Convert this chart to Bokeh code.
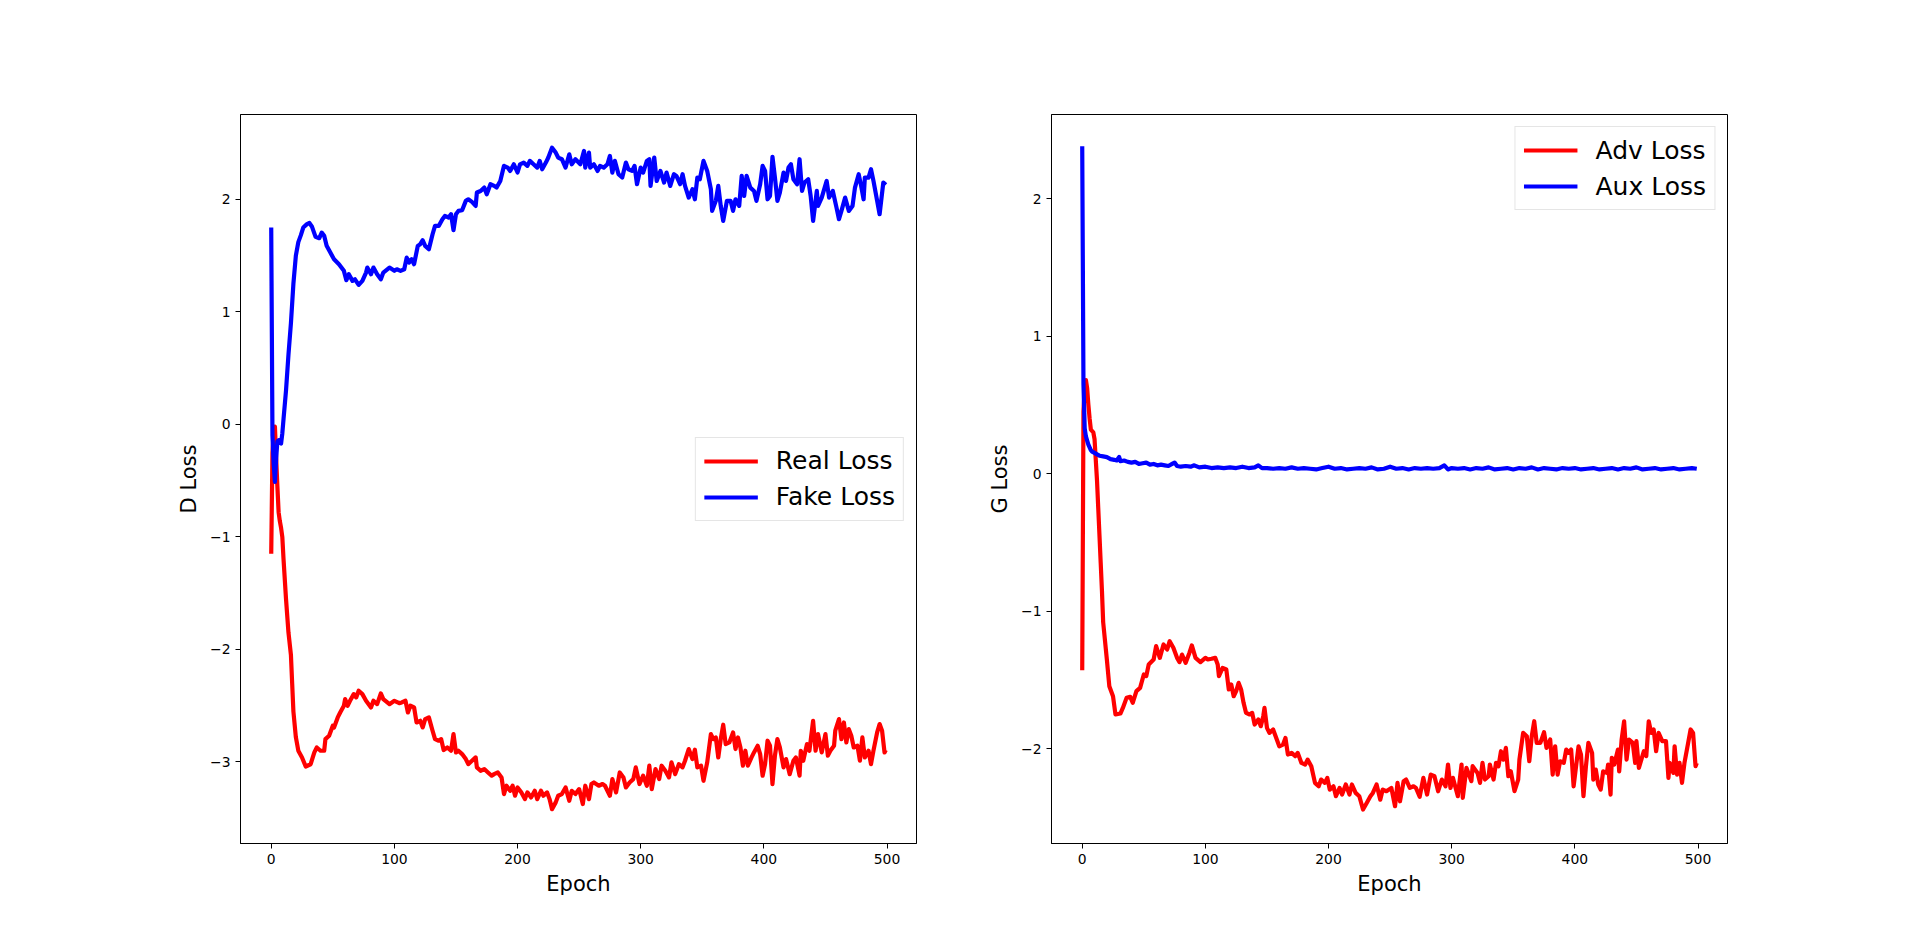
from bokeh.plotting import figure
from bokeh.layouts import row
from bokeh.models import Range1d, FixedTicker
from bokeh.embed import file_html
from bokeh.resources import INLINE

# ---- data: (epoch, value) pairs ----
d_real_loss = [
    (0, -1.15), (1, -0.25), (2, -0.08), (3, -0.02), (4, -0.3), (5, -0.55), (6, -0.78), (7, -0.86),
    (8, -0.92), (9, -1.0), (10, -1.2), (12, -1.55), (14, -1.85), (16, -2.05), (17, -2.3), (18, -2.55),
    (20, -2.78), (22, -2.9), (25, -2.96), (28, -3.04), (32, -3.02), (35, -2.915), (37, -2.871),
    (40, -2.9), (43, -2.9), (44, -2.797), (47, -2.767), (50, -2.678), (51, -2.693), (54, -2.604),
    (56, -2.56), (59, -2.5), (60, -2.441), (62, -2.5), (64, -2.456), (67, -2.397), (69, -2.426),
    (71, -2.367), (74, -2.397), (77, -2.456), (81, -2.515), (83, -2.456), (86, -2.486), (89, -2.391),
    (91, -2.441), (96, -2.486), (100, -2.456), (104, -2.477), (106, -2.471), (109, -2.456),
    (111, -2.56), (113, -2.5), (116, -2.515), (118, -2.649), (121, -2.634), (123, -2.693),
    (125, -2.619), (128, -2.604), (131, -2.722), (133, -2.797), (136, -2.811), (138, -2.797),
    (140, -2.894), (143, -2.871), (146, -2.9), (148, -2.752), (150, -2.915), (152, -2.9),
    (155, -2.93), (158, -2.974), (160, -3.019), (163, -2.989), (166, -2.959), (167, -3.048),
    (170, -3.078), (173, -3.063), (176, -3.093), (179, -3.122), (181, -3.108), (184, -3.093),
    (187, -3.137), (189, -3.285), (191, -3.211), (194, -3.256), (196, -3.211), (198, -3.3),
    (200, -3.226), (203, -3.27), (206, -3.33), (208, -3.27), (211, -3.315), (214, -3.256),
    (216, -3.33), (219, -3.256), (221, -3.3), (224, -3.27), (226, -3.33), (228, -3.419),
    (231, -3.359), (233, -3.3), (236, -3.285), (239, -3.226), (242, -3.345), (244, -3.256),
    (247, -3.285), (250, -3.241), (253, -3.374), (255, -3.211), (258, -3.33), (260, -3.196),
    (262, -3.182), (266, -3.211), (269, -3.196), (271, -3.211), (275, -3.3), (277, -3.152),
    (280, -3.27), (283, -3.093), (286, -3.137), (288, -3.226), (291, -3.182), (294, -3.152),
    (296, -3.048), (299, -3.196), (302, -3.122), (305, -3.211), (307, -3.033), (309, -3.241),
    (312, -3.063), (315, -3.152), (317, -3.033), (320, -3.078), (323, -3.137), (325, -3.004),
    (328, -3.108), (331, -3.019), (334, -3.048), (336, -2.989), (339, -2.885), (342, -2.974),
    (344, -2.891), (346, -3.048), (349, -3.033), (351, -3.167), (354, -3.004), (357, -2.752),
    (359, -2.797), (361, -2.782), (363, -2.959), (365, -2.797), (367, -2.669), (369, -2.841),
    (372, -2.826), (375, -2.737), (377, -2.885), (379, -2.782), (381, -2.871), (383, -3.033),
    (385, -2.9), (387, -3.033), (390, -2.959), (392, -2.915), (395, -2.856), (397, -2.93),
    (399, -3.122), (401, -3.019), (403, -2.811), (405, -2.856), (407, -3.196), (409, -2.944),
    (411, -2.797), (413, -2.871), (416, -3.048), (418, -2.974), (421, -3.108), (424, -2.989),
    (426, -2.959), (429, -3.122), (430, -2.9), (432, -2.989), (435, -2.841), (437, -2.9),
    (440, -2.634), (442, -2.9), (444, -2.752), (447, -2.915), (450, -2.752), (452, -2.944),
    (454, -2.9), (457, -2.856), (458, -2.722), (461, -2.619), (463, -2.797), (465, -2.649),
    (467, -2.826), (469, -2.708), (471, -2.767), (473, -2.871), (476, -2.856), (478, -2.989),
    (480, -2.782), (482, -2.959), (485, -2.9), (487, -3.019), (489, -2.9), (492, -2.737),
    (494, -2.663), (496, -2.722), (498, -2.915), (499, -2.894),
]

d_fake_loss = [
    (0, 1.75), (1, -0.1), (2, -0.35), (3, -0.51), (4, -0.3), (5, -0.15), (6, -0.14), (7, -0.16),
    (8, -0.17), (9, -0.08), (10, 0.05), (12, 0.3), (14, 0.62), (16, 0.9), (18, 1.25), (20, 1.5),
    (22, 1.62), (24, 1.68), (26, 1.75), (29, 1.78), (31, 1.79), (33, 1.76), (36, 1.667),
    (39, 1.655), (41, 1.705), (43, 1.676), (45, 1.587), (48, 1.527), (51, 1.468), (55, 1.424),
    (59, 1.365), (61, 1.282), (63, 1.335), (66, 1.276), (68, 1.29), (71, 1.24), (74, 1.276),
    (77, 1.35), (78, 1.394), (81, 1.335), (83, 1.394), (86, 1.335), (89, 1.29), (91, 1.35),
    (96, 1.394), (100, 1.365), (102, 1.379), (105, 1.365), (108, 1.379), (110, 1.483),
    (112, 1.439), (114, 1.468), (116, 1.424), (119, 1.587), (121, 1.602), (123, 1.637),
    (125, 1.587), (128, 1.557), (131, 1.69), (133, 1.764), (136, 1.764), (139, 1.824),
    (141, 1.853), (144, 1.839), (146, 1.868), (148, 1.726), (150, 1.868), (152, 1.898),
    (155, 1.904), (158, 1.987), (160, 2.001), (163, 1.978), (166, 1.942), (167, 2.061),
    (170, 2.075), (173, 2.105), (175, 2.046), (178, 2.135), (181, 2.12), (183, 2.105),
    (186, 2.164), (189, 2.298), (192, 2.283), (194, 2.253), (197, 2.312), (200, 2.239),
    (202, 2.312), (205, 2.327), (208, 2.298), (210, 2.342), (213, 2.312), (216, 2.283),
    (218, 2.342), (220, 2.268), (223, 2.327), (225, 2.372), (228, 2.46), (231, 2.416),
    (233, 2.372), (236, 2.357), (239, 2.283), (242, 2.401), (244, 2.312), (247, 2.357),
    (251, 2.312), (254, 2.431), (255, 2.283), (258, 2.416), (259, 2.283), (262, 2.312),
    (265, 2.253), (267, 2.298), (270, 2.283), (273, 2.312), (275, 2.386), (277, 2.238),
    (279, 2.342), (282, 2.224), (285, 2.194), (288, 2.327), (290, 2.268), (293, 2.253),
    (295, 2.298), (297, 2.135), (300, 2.283), (302, 2.238), (305, 2.342), (307, 2.357),
    (308, 2.12), (311, 2.372), (313, 2.164), (316, 2.253), (319, 2.15), (321, 2.238),
    (324, 2.12), (327, 2.224), (329, 2.209), (332, 2.135), (334, 2.224), (336, 2.12),
    (339, 2.016), (342, 2.09), (344, 2.001), (346, 2.194), (348, 2.179), (351, 2.342),
    (354, 2.253), (357, 2.09), (358, 1.898), (361, 1.987), (363, 2.12), (365, 1.942),
    (367, 1.809), (370, 1.987), (373, 1.987), (375, 1.898), (377, 2.001), (380, 1.942),
    (382, 2.209), (384, 2.031), (386, 2.209), (389, 2.105), (392, 2.075), (394, 1.987),
    (397, 2.135), (399, 2.298), (401, 2.253), (403, 2.001), (405, 2.031), (407, 2.378),
    (409, 2.194), (411, 1.987), (413, 2.061), (416, 2.238), (418, 2.164), (420, 2.283),
    (422, 2.312), (424, 2.179), (427, 2.135), (429, 2.357), (431, 2.075), (433, 2.15),
    (436, 2.179), (438, 2.031), (440, 1.809), (443, 2.075), (444, 1.942), (447, 2.016),
    (451, 2.164), (453, 2.016), (456, 2.075), (459, 1.927), (461, 1.824), (463, 1.898),
    (466, 2.016), (469, 1.898), (472, 1.942), (474, 2.105), (477, 2.224), (479, 2.12),
    (481, 2.001), (482, 2.194), (485, 2.194), (487, 2.268), (489, 2.164), (492, 1.987),
    (494, 1.868), (497, 2.15), (499, 2.129),
]

g_adv_loss = [
    (0, -1.43), (1, 0.45), (2, 0.62), (3, 0.68), (4, 0.62), (5, 0.5), (6, 0.4), (7, 0.32),
    (9, 0.3), (10, 0.25), (11, 0.1), (12, -0.05), (13, -0.25), (14, -0.45), (15, -0.65),
    (16, -0.85), (17, -1.08), (20, -1.352), (22, -1.546), (25, -1.619), (27, -1.752),
    (31, -1.745), (33, -1.704), (36, -1.631), (39, -1.624), (41, -1.667), (44, -1.582),
    (47, -1.558), (50, -1.461), (52, -1.473), (54, -1.388), (58, -1.352), (60, -1.255),
    (63, -1.34), (66, -1.243), (69, -1.279), (71, -1.219), (74, -1.267), (77, -1.34),
    (79, -1.371), (81, -1.316), (84, -1.376), (87, -1.304), (89, -1.25), (92, -1.34),
    (96, -1.371), (100, -1.34), (102, -1.352), (105, -1.347), (108, -1.34), (110, -1.388),
    (111, -1.473), (114, -1.413), (117, -1.425), (119, -1.57), (121, -1.534), (123, -1.619),
    (125, -1.582), (127, -1.522), (129, -1.57), (131, -1.667), (133, -1.74), (136, -1.752),
    (138, -1.74), (140, -1.825), (143, -1.788), (145, -1.837), (147, -1.764), (148, -1.704),
    (150, -1.849), (152, -1.886), (155, -1.861), (158, -1.934), (160, -1.983), (163, -1.971),
    (165, -1.922), (167, -2.043), (170, -2.031), (173, -2.055), (175, -2.031), (178, -2.104),
    (181, -2.116), (183, -2.08), (186, -2.128), (189, -2.249), (192, -2.274), (194, -2.225),
    (197, -2.249), (199, -2.213), (201, -2.298), (204, -2.274), (206, -2.346), (209, -2.286),
    (211, -2.334), (214, -2.261), (217, -2.334), (219, -2.261), (222, -2.322), (225, -2.346),
    (228, -2.443), (231, -2.395), (234, -2.346), (236, -2.322), (239, -2.261), (242, -2.371),
    (244, -2.298), (247, -2.31), (251, -2.286), (254, -2.419), (256, -2.249), (258, -2.383),
    (261, -2.237), (263, -2.225), (266, -2.286), (269, -2.274), (271, -2.286), (274, -2.35),
    (277, -2.213), (280, -2.334), (283, -2.189), (286, -2.201), (289, -2.31), (292, -2.225),
    (295, -2.274), (297, -2.116), (299, -2.286), (301, -2.213), (305, -2.346), (308, -2.116),
    (309, -2.358), (312, -2.14), (316, -2.237), (317, -2.128), (321, -2.177), (323, -2.249),
    (325, -2.104), (327, -2.225), (330, -2.201), (331, -2.116), (334, -2.225), (336, -2.104),
    (338, -2.128), (340, -2.019), (342, -2.08), (344, -1.995), (346, -2.201), (348, -2.165),
    (351, -2.31), (354, -2.225), (355, -2.08), (358, -1.886), (361, -1.91), (363, -2.092),
    (365, -1.91), (367, -1.801), (369, -1.958), (372, -1.958), (375, -1.881), (377, -1.995),
    (380, -1.934), (382, -2.189), (384, -1.983), (386, -2.189), (388, -2.092), (391, -2.104),
    (393, -2.007), (395, -2.031), (397, -2.007), (399, -2.274), (401, -2.128), (403, -1.983),
    (405, -2.043), (407, -2.346), (409, -2.128), (411, -1.958), (414, -2.031), (415, -2.225),
    (417, -2.152), (419, -2.261), (421, -2.298), (423, -2.165), (426, -2.177), (427, -2.116),
    (429, -2.334), (430, -2.067), (432, -2.116), (435, -2.007), (436, -2.165), (438, -1.934),
    (440, -1.801), (442, -2.08), (444, -1.934), (447, -1.958), (449, -2.104), (450, -1.946),
    (452, -2.14), (454, -2.08), (456, -2.019), (458, -2.055), (460, -1.801), (462, -1.886),
    (464, -1.861), (466, -2.019), (468, -1.886), (471, -1.946), (474, -1.946), (476, -2.213),
    (477, -2.104), (480, -2.177), (481, -1.983), (483, -2.189), (485, -2.104), (487, -2.249),
    (489, -2.104), (492, -1.958), (494, -1.861), (496, -1.886), (498, -2.128), (499, -2.104),
]

g_aux_loss = [
    (0, 2.38), (1, 0.65), (2, 0.33), (3, 0.27), (4, 0.24), (5, 0.21), (6, 0.19), (7, 0.17),
    (8, 0.16), (10, 0.15), (12, 0.14), (14, 0.13), (17, 0.125), (20, 0.12), (23, 0.105),
    (26, 0.1), (28, 0.095), (30, 0.12), (31, 0.09), (34, 0.095), (37, 0.085), (40, 0.08),
    (43, 0.085), (46, 0.07), (49, 0.075), (52, 0.08), (55, 0.065), (58, 0.07), (61, 0.06),
    (64, 0.065), (67, 0.06), (70, 0.055), (73, 0.07), (75, 0.08), (77, 0.055), (80, 0.05),
    (84, 0.055), (88, 0.05), (91, 0.06), (95, 0.045), (100, 0.05), (105, 0.04), (110, 0.045),
    (115, 0.04), (120, 0.045), (125, 0.04), (130, 0.05), (135, 0.04), (140, 0.045), (143, 0.06),
    (146, 0.04), (150, 0.04), (155, 0.035), (160, 0.04), (165, 0.035), (170, 0.045), (175, 0.035),
    (180, 0.04), (185, 0.035), (190, 0.03), (195, 0.04), (200, 0.05), (205, 0.035), (210, 0.04),
    (215, 0.03), (220, 0.035), (225, 0.04), (230, 0.035), (235, 0.045), (240, 0.03), (245, 0.035),
    (250, 0.05), (255, 0.035), (260, 0.04), (265, 0.03), (270, 0.04), (275, 0.035), (280, 0.04),
    (285, 0.035), (290, 0.04), (294, 0.06), (297, 0.03), (300, 0.04), (305, 0.035), (310, 0.04),
    (315, 0.03), (320, 0.04), (325, 0.035), (330, 0.045), (335, 0.03), (340, 0.035), (345, 0.04),
    (350, 0.03), (355, 0.04), (360, 0.035), (365, 0.045), (370, 0.03), (375, 0.04), (380, 0.035),
    (385, 0.03), (390, 0.04), (395, 0.035), (400, 0.04), (405, 0.03), (410, 0.035), (415, 0.04),
    (420, 0.03), (425, 0.035), (430, 0.04), (435, 0.03), (440, 0.04), (445, 0.035), (450, 0.045),
    (455, 0.03), (460, 0.035), (465, 0.04), (470, 0.03), (475, 0.035), (480, 0.04), (485, 0.03),
    (490, 0.035), (495, 0.04), (499, 0.035),
]

x_ticks = [0, 100, 200, 300, 400, 500]
d_y_ticks = [-3, -2, -1, 0, 1, 2]
g_y_ticks = [-2, -1, 0, 1, 2]

FONT = "DejaVu Sans"


def unzip(pairs):
    return [p[0] for p in pairs], [p[1] for p in pairs]


def style(p, xlabel, ylabel, yticks):
    p.xgrid.visible = False
    p.ygrid.visible = False
    p.outline_line_color = "black"
    p.outline_line_width = 1
    p.outline_line_alpha = 1
    p.background_fill_color = "white"
    p.border_fill_color = "white"
    p.xaxis.ticker = FixedTicker(ticks=x_ticks)
    p.yaxis.ticker = FixedTicker(ticks=yticks)
    p.yaxis.major_label_overrides = {t: ("\u2212%d" % (-t) if t < 0 else str(t)) for t in yticks}
    p.xaxis.axis_label = xlabel
    p.yaxis.axis_label = ylabel
    for ax in (p.xaxis[0], p.yaxis[0]):
        ax.major_tick_out = 5
        ax.major_tick_in = 0
        ax.major_tick_line_color = "black"
        ax.major_tick_line_width = 1
        ax.minor_tick_line_color = None
        ax.axis_line_color = "black"
        ax.major_label_text_font = FONT
        ax.major_label_text_font_size = "13.9px"
        ax.major_label_text_color = "black"
        ax.major_label_standoff = 5
        ax.axis_label_text_font = FONT
        ax.axis_label_text_font_size = "21px"
        ax.axis_label_text_font_style = "normal"
        ax.axis_label_text_color = "black"
    p.xaxis.axis_label_standoff = 5
    p.yaxis.axis_label_standoff = 6


def style_legend(p, loc):
    lg = p.legend[0]
    lg.location = loc
    lg.margin = 12
    lg.label_text_font = FONT
    lg.label_text_font_size = "25px"
    lg.label_text_color = "black"
    lg.glyph_width = 54
    lg.glyph_height = 30
    lg.label_height = 30
    lg.label_standoff = 18
    lg.padding = 8
    lg.spacing = 6
    lg.border_line_color = "#cccccc"
    lg.border_line_width = 1
    lg.background_fill_color = "white"
    lg.background_fill_alpha = 0.8


common = dict(output_backend="svg", toolbar_location=None,
              frame_width=676, frame_height=729,
              min_border_top=114, min_border_bottom=80)

LW = 4.2

p1 = figure(x_range=Range1d(-24.95, 523.95), y_range=Range1d(-3.7245, 2.7545),
            min_border_left=240, min_border_right=20, **common)
x, y = unzip(d_real_loss)
p1.line(x, y, color="#ff0000", line_width=LW, line_join="round", legend_label="Real Loss")
x, y = unzip(d_fake_loss)
p1.line(x, y, color="#0000ff", line_width=LW, line_join="round", legend_label="Fake Loss")
style(p1, "Epoch", "D Loss", d_y_ticks)
style_legend(p1, "center_right")

p2 = figure(x_range=Range1d(-24.95, 523.95), y_range=Range1d(-2.69, 2.611),
            min_border_left=115, min_border_right=20, **common)
x, y = unzip(g_adv_loss)
p2.line(x, y, color="#ff0000", line_width=LW, line_join="round", legend_label="Adv Loss")
x, y = unzip(g_aux_loss)
p2.line(x, y, color="#0000ff", line_width=LW, line_join="round", legend_label="Aux Loss")
style(p2, "Epoch", "G Loss", g_y_ticks)
style_legend(p2, "top_right")

layout = row(p1, p2, spacing=0)
open("out.html", "w").write(file_html(layout, INLINE))
